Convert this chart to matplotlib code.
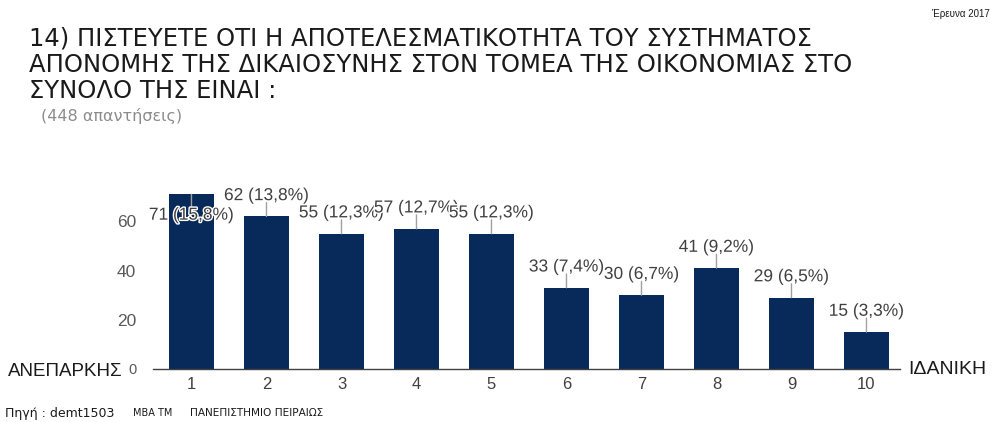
import numpy as np
import matplotlib
matplotlib.use("Agg")
import matplotlib.pyplot as plt
import matplotlib.patheffects as pe

# data
scores = [1, 2, 3, 4, 5, 6, 7, 8, 9, 10]
counts = [71, 62, 55, 57, 55, 33, 30, 41, 29, 15]
percents = ["15,8", "13,8", "12,3", "12,7", "12,3", "7,4", "6,7", "9,2", "6,5", "3,3"]
yticks = [0, 20, 40, 60]

title_lines = ["14) ΠΙΣΤΕΥΕΤΕ ΟΤΙ Η ΑΠΟΤΕΛΕΣΜΑΤΙΚΟΤΗΤΑ ΤΟΥ ΣΥΣΤΗΜΑΤΟΣ",
               "ΑΠΟΝΟΜΗΣ ΤΗΣ ΔΙΚΑΙΟΣΥΝΗΣ ΣΤΟΝ ΤΟΜΕΑ ΤΗΣ ΟΙΚΟΝΟΜΙΑΣ ΣΤΟ",
               "ΣΥΝΟΛΟ ΤΗΣ ΕΙΝΑΙ :"]

bar_col = "#072a5b"
wide = ["DejaVu Sans"]
plt.rcParams["font.family"] = ["Liberation Sans", "DejaVu Sans"]

W, H = 993, 422
fig = plt.figure(figsize=(W / 100, H / 100), dpi=100)
ax = fig.add_axes([153 / W, 53 / H, 747 / W, 184.5 / H])

ax.bar(scores, counts, width=0.6, color=bar_col, zorder=2)
ax.set_xlim(0.487, 10.447)
ax.set_ylim(0, 75)

for s in ["top", "right", "left"]:
    ax.spines[s].set_visible(False)
ax.spines["bottom"].set_color("#404040")
ax.spines["bottom"].set_linewidth(1.0)

ax.set_xticks(scores)
ax.set_xticklabels([str(s) for s in scores], fontsize=12, color="#404040")
ax.set_yticks(yticks)
ax.set_yticklabels([str(t) for t in yticks], fontsize=12.5, color="#595959")
ax.tick_params(axis="both", length=0)
ax.tick_params(axis="x", pad=6)
ax.tick_params(axis="y", pad=12)
ax.get_yticklabels()[0].set_fontsize(10.5)

# value labels with leader lines
top = ax.get_ylim()[1]
for x, v, p in zip(scores, counts, percents):
    sign = 1 if v + 9 < top else -1
    ax.annotate("", xy=(x, v), xytext=(0, sign * 10), textcoords="offset points",
                arrowprops=dict(arrowstyle="-", color="#a0a0a0", lw=1.0,
                                shrinkA=0, shrinkB=0), zorder=3)
    ax.annotate(f"{v} ({p}%)", xy=(x, v), xytext=(0, sign * 15),
                textcoords="offset points", ha="center", va="center",
                fontsize=12.5, color="#404040", zorder=4,
                path_effects=[pe.withStroke(linewidth=2, foreground="white")])

# end labels
fig.text(8 / W, 1 - 372 / H, "ΑΝΕΠΑΡΚΗΣ", fontsize=13.5, color="#1a1a1a",
         ha="left", va="center")
fig.text(908 / W, 1 - 369 / H, "ΙΔΑΝΙΚΗ", fontsize=14, color="#1a1a1a",
         ha="left", va="center")

# titles
for i, line in enumerate(title_lines):
    fig.text(29 / W, 1 - (38.5 + 26.2 * i) / H, line, fontsize=17.5, color="#1a1a1a",
             family=wide, ha="left", va="center")
fig.text(41 / W, 1 - 116 / H, "(448 απαντήσεις)", fontsize=11.5, color="#8c8c8c",
         family=wide, ha="left", va="center")
fig.text(990 / W, 1 - 14 / H, "Έρευνα 2017", fontsize=7, color="#1a1a1a",
         ha="right", va="center")

# footer
fig.text(5 / W, 1 - 413 / H, "Πηγή : demt1503", fontsize=9, color="#1a1a1a",
         family=wide, ha="left", va="center")
fig.text(133 / W, 1 - 413 / H, "MBA TM", fontsize=7, color="#1a1a1a",
         family=wide, ha="left", va="center")
fig.text(190 / W, 1 - 413 / H, "ΠΑΝΕΠΙΣΤΗΜΙΟ ΠΕΙΡΑΙΩΣ", fontsize=7.6, color="#1a1a1a",
         family=wide, ha="left", va="center")

fig.savefig("out.png", dpi=100)
